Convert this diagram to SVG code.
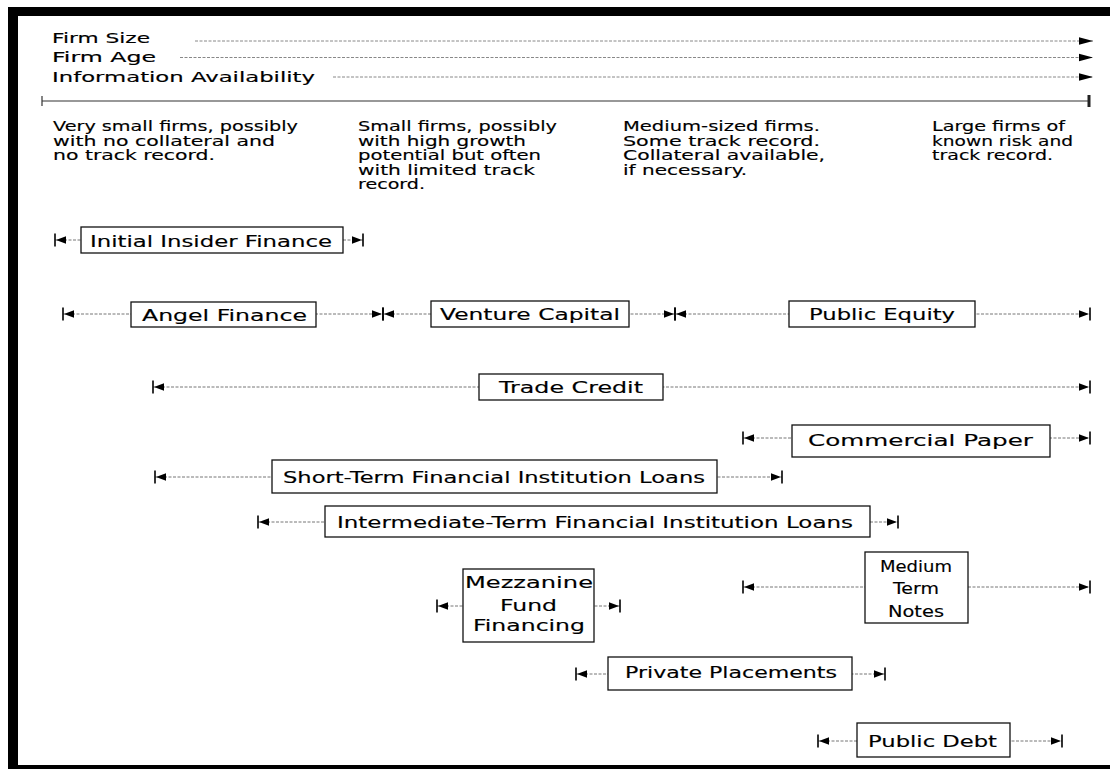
<svg xmlns="http://www.w3.org/2000/svg" width="1110" height="769" viewBox="0 0 1110 769">
<style>
text{font-family:"DejaVu Sans","Liberation Sans",sans-serif;fill:#000;stroke:#000;stroke-width:0.15}
.h{font-size:14.5px}
.d{font-size:14.5px}
.b{font-size:16.5px}
.box{fill:#fff;stroke:#111;stroke-width:1.3}
.con{stroke:#777;stroke-width:1;stroke-dasharray:3 1.5;fill:none}
.hd{stroke:#888;stroke-width:1;stroke-dasharray:3 1.5;fill:none}
</style>
<defs>
<marker id="cap" markerUnits="userSpaceOnUse" viewBox="-14 -8 16 16" refX="0" refY="0" markerWidth="16" markerHeight="16" orient="auto-start-reverse">
<path d="M-11,-3.8 L-1,0 L-11,3.8 Z" fill="#000"/>
<line x1="0" y1="-6.5" x2="0" y2="6.5" stroke="#000" stroke-width="1.6"/>
</marker>
<marker id="tri" markerUnits="userSpaceOnUse" viewBox="-15 -5 17 10" refX="0" refY="0" markerWidth="17" markerHeight="10" orient="auto">
<path d="M-14,-3.8 L0,0 L-14,3.8 Z" fill="#000"/>
</marker>
</defs>
<rect width="1110" height="769" fill="#fff"/>
<!-- frame -->
<rect x="8" y="7" width="1102" height="9" fill="#000"/>
<rect x="8" y="7" width="10" height="762" fill="#000"/>
<rect x="8" y="765" width="1102" height="4" fill="#000"/>

<!-- header -->
<g id="header">
<text class="h" x="52" y="43" textLength="98" lengthAdjust="spacingAndGlyphs">Firm Size</text>
<text class="h" x="52" y="61.5" textLength="104" lengthAdjust="spacingAndGlyphs">Firm Age</text>
<text class="h" x="52" y="81.5" textLength="263" lengthAdjust="spacingAndGlyphs">Information Availability</text>
<line class="hd" x1="195" y1="41" x2="1093" y2="41" marker-end="url(#tri)"/>
<line class="hd" x1="180" y1="57.5" x2="1093" y2="57.5" marker-end="url(#tri)"/>
<line class="hd" x1="333" y1="77" x2="1093" y2="77" marker-end="url(#tri)"/>
<line x1="42" y1="101" x2="1089" y2="101" stroke="#333" stroke-width="1.2"/>
<line x1="42" y1="96" x2="42" y2="106" stroke="#333" stroke-width="1.2"/>
<rect x="1087.5" y="95" width="3" height="12" fill="#222"/>
</g>

<!-- descriptions -->
<g id="desc1">
<text class="d" x="53" y="131" textLength="245" lengthAdjust="spacingAndGlyphs">Very small firms, possibly</text>
<text class="d" x="53" y="145.5" textLength="222" lengthAdjust="spacingAndGlyphs">with no collateral and</text>
<text class="d" x="53" y="160" textLength="162" lengthAdjust="spacingAndGlyphs">no track record.</text>
</g>
<g id="desc2">
<text class="d" x="358" y="131" textLength="199" lengthAdjust="spacingAndGlyphs">Small firms, possibly</text>
<text class="d" x="358" y="145.5" textLength="168" lengthAdjust="spacingAndGlyphs">with high growth</text>
<text class="d" x="358" y="160" textLength="183" lengthAdjust="spacingAndGlyphs">potential but often</text>
<text class="d" x="358" y="174.5" textLength="177" lengthAdjust="spacingAndGlyphs">with limited track</text>
<text class="d" x="358" y="189" textLength="67" lengthAdjust="spacingAndGlyphs">record.</text>
</g>
<g id="desc3">
<text class="d" x="623" y="131" textLength="197" lengthAdjust="spacingAndGlyphs">Medium-sized firms.</text>
<text class="d" x="623" y="145.5" textLength="197" lengthAdjust="spacingAndGlyphs">Some track record.</text>
<text class="d" x="623" y="160" textLength="202" lengthAdjust="spacingAndGlyphs">Collateral available,</text>
<text class="d" x="623" y="174.5" textLength="124" lengthAdjust="spacingAndGlyphs">if necessary.</text>
</g>
<g id="desc4">
<text class="d" x="932" y="131" textLength="133" lengthAdjust="spacingAndGlyphs">Large firms of</text>
<text class="d" x="932" y="145.5" textLength="141" lengthAdjust="spacingAndGlyphs">known risk and</text>
<text class="d" x="932" y="160" textLength="121" lengthAdjust="spacingAndGlyphs">track record.</text>
</g>

<!-- connectors -->
<g id="connectors">
<line class="con" x1="55" y1="240" x2="363" y2="240" marker-start="url(#cap)" marker-end="url(#cap)"/>
<line class="con" x1="63" y1="314" x2="383" y2="314" marker-start="url(#cap)" marker-end="url(#cap)"/>
<line class="con" x1="383" y1="314" x2="675" y2="314" marker-start="url(#cap)" marker-end="url(#cap)"/>
<line class="con" x1="675" y1="314" x2="1090" y2="314" marker-start="url(#cap)" marker-end="url(#cap)"/>
<line class="con" x1="153" y1="387" x2="1090" y2="387" marker-start="url(#cap)" marker-end="url(#cap)"/>
<line class="con" x1="743" y1="438" x2="1090" y2="438" marker-start="url(#cap)" marker-end="url(#cap)"/>
<line class="con" x1="155" y1="477" x2="782" y2="477" marker-start="url(#cap)" marker-end="url(#cap)"/>
<line class="con" x1="258" y1="522" x2="898" y2="522" marker-start="url(#cap)" marker-end="url(#cap)"/>
<line class="con" x1="437" y1="606" x2="620" y2="606" marker-start="url(#cap)" marker-end="url(#cap)"/>
<line class="con" x1="743" y1="587" x2="1090" y2="587" marker-start="url(#cap)" marker-end="url(#cap)"/>
<line class="con" x1="576" y1="674" x2="885" y2="674" marker-start="url(#cap)" marker-end="url(#cap)"/>
<line class="con" x1="818" y1="741" x2="1062" y2="741" marker-start="url(#cap)" marker-end="url(#cap)"/>
</g>

<!-- nodes -->
<g id="initial-insider-finance">
<rect class="box" x="81" y="227" width="262" height="26"/>
<text class="b" x="90" y="246.5" textLength="242" lengthAdjust="spacingAndGlyphs">Initial Insider Finance</text>
</g>
<g id="angel-finance">
<rect class="box" x="131" y="302" width="185" height="25"/>
<text class="b" x="142" y="320.5" textLength="165" lengthAdjust="spacingAndGlyphs">Angel Finance</text>
</g>
<g id="venture-capital">
<rect class="box" x="431" y="301" width="198" height="26"/>
<text class="b" x="440" y="319.5" textLength="180" lengthAdjust="spacingAndGlyphs">Venture Capital</text>
</g>
<g id="public-equity">
<rect class="box" x="789" y="301" width="186" height="26"/>
<text class="b" x="809" y="319.5" textLength="146" lengthAdjust="spacingAndGlyphs">Public Equity</text>
</g>
<g id="trade-credit">
<rect class="box" x="479" y="374" width="184" height="26"/>
<text class="b" x="499" y="392.5" textLength="144" lengthAdjust="spacingAndGlyphs">Trade Credit</text>
</g>
<g id="commercial-paper">
<rect class="box" x="792" y="425" width="258" height="32"/>
<text class="b" x="808" y="446" textLength="225" lengthAdjust="spacingAndGlyphs">Commercial Paper</text>
</g>
<g id="short-term-loans">
<rect class="box" x="272" y="460" width="445" height="33"/>
<text class="b" x="283" y="483" textLength="422" lengthAdjust="spacingAndGlyphs">Short-Term Financial Institution Loans</text>
</g>
<g id="intermediate-term-loans">
<rect class="box" x="325" y="506" width="545" height="31"/>
<text class="b" x="337" y="528" textLength="516" lengthAdjust="spacingAndGlyphs">Intermediate-Term Financial Institution Loans</text>
</g>
<g id="mezzanine">
<rect class="box" x="463" y="569" width="131" height="73"/>
<text class="b" x="465" y="588" textLength="128" lengthAdjust="spacingAndGlyphs">Mezzanine</text>
<text class="b" x="500" y="611" textLength="57" lengthAdjust="spacingAndGlyphs">Fund</text>
<text class="b" x="473" y="631" textLength="112" lengthAdjust="spacingAndGlyphs">Financing</text>
</g>
<g id="medium-term-notes">
<rect class="box" x="865" y="552" width="103" height="71"/>
<text class="b" x="916" y="572" text-anchor="middle" textLength="72" lengthAdjust="spacingAndGlyphs">Medium</text>
<text class="b" x="916" y="594" text-anchor="middle" textLength="46" lengthAdjust="spacingAndGlyphs">Term</text>
<text class="b" x="916" y="617" text-anchor="middle" textLength="56" lengthAdjust="spacingAndGlyphs">Notes</text>
</g>
<g id="private-placements">
<rect class="box" x="608" y="657" width="244" height="33"/>
<text class="b" x="625" y="678" textLength="212" lengthAdjust="spacingAndGlyphs">Private Placements</text>
</g>
<g id="public-debt">
<rect class="box" x="857" y="723" width="153" height="34"/>
<text class="b" x="868" y="747" textLength="129" lengthAdjust="spacingAndGlyphs">Public Debt</text>
</g>
</svg>
